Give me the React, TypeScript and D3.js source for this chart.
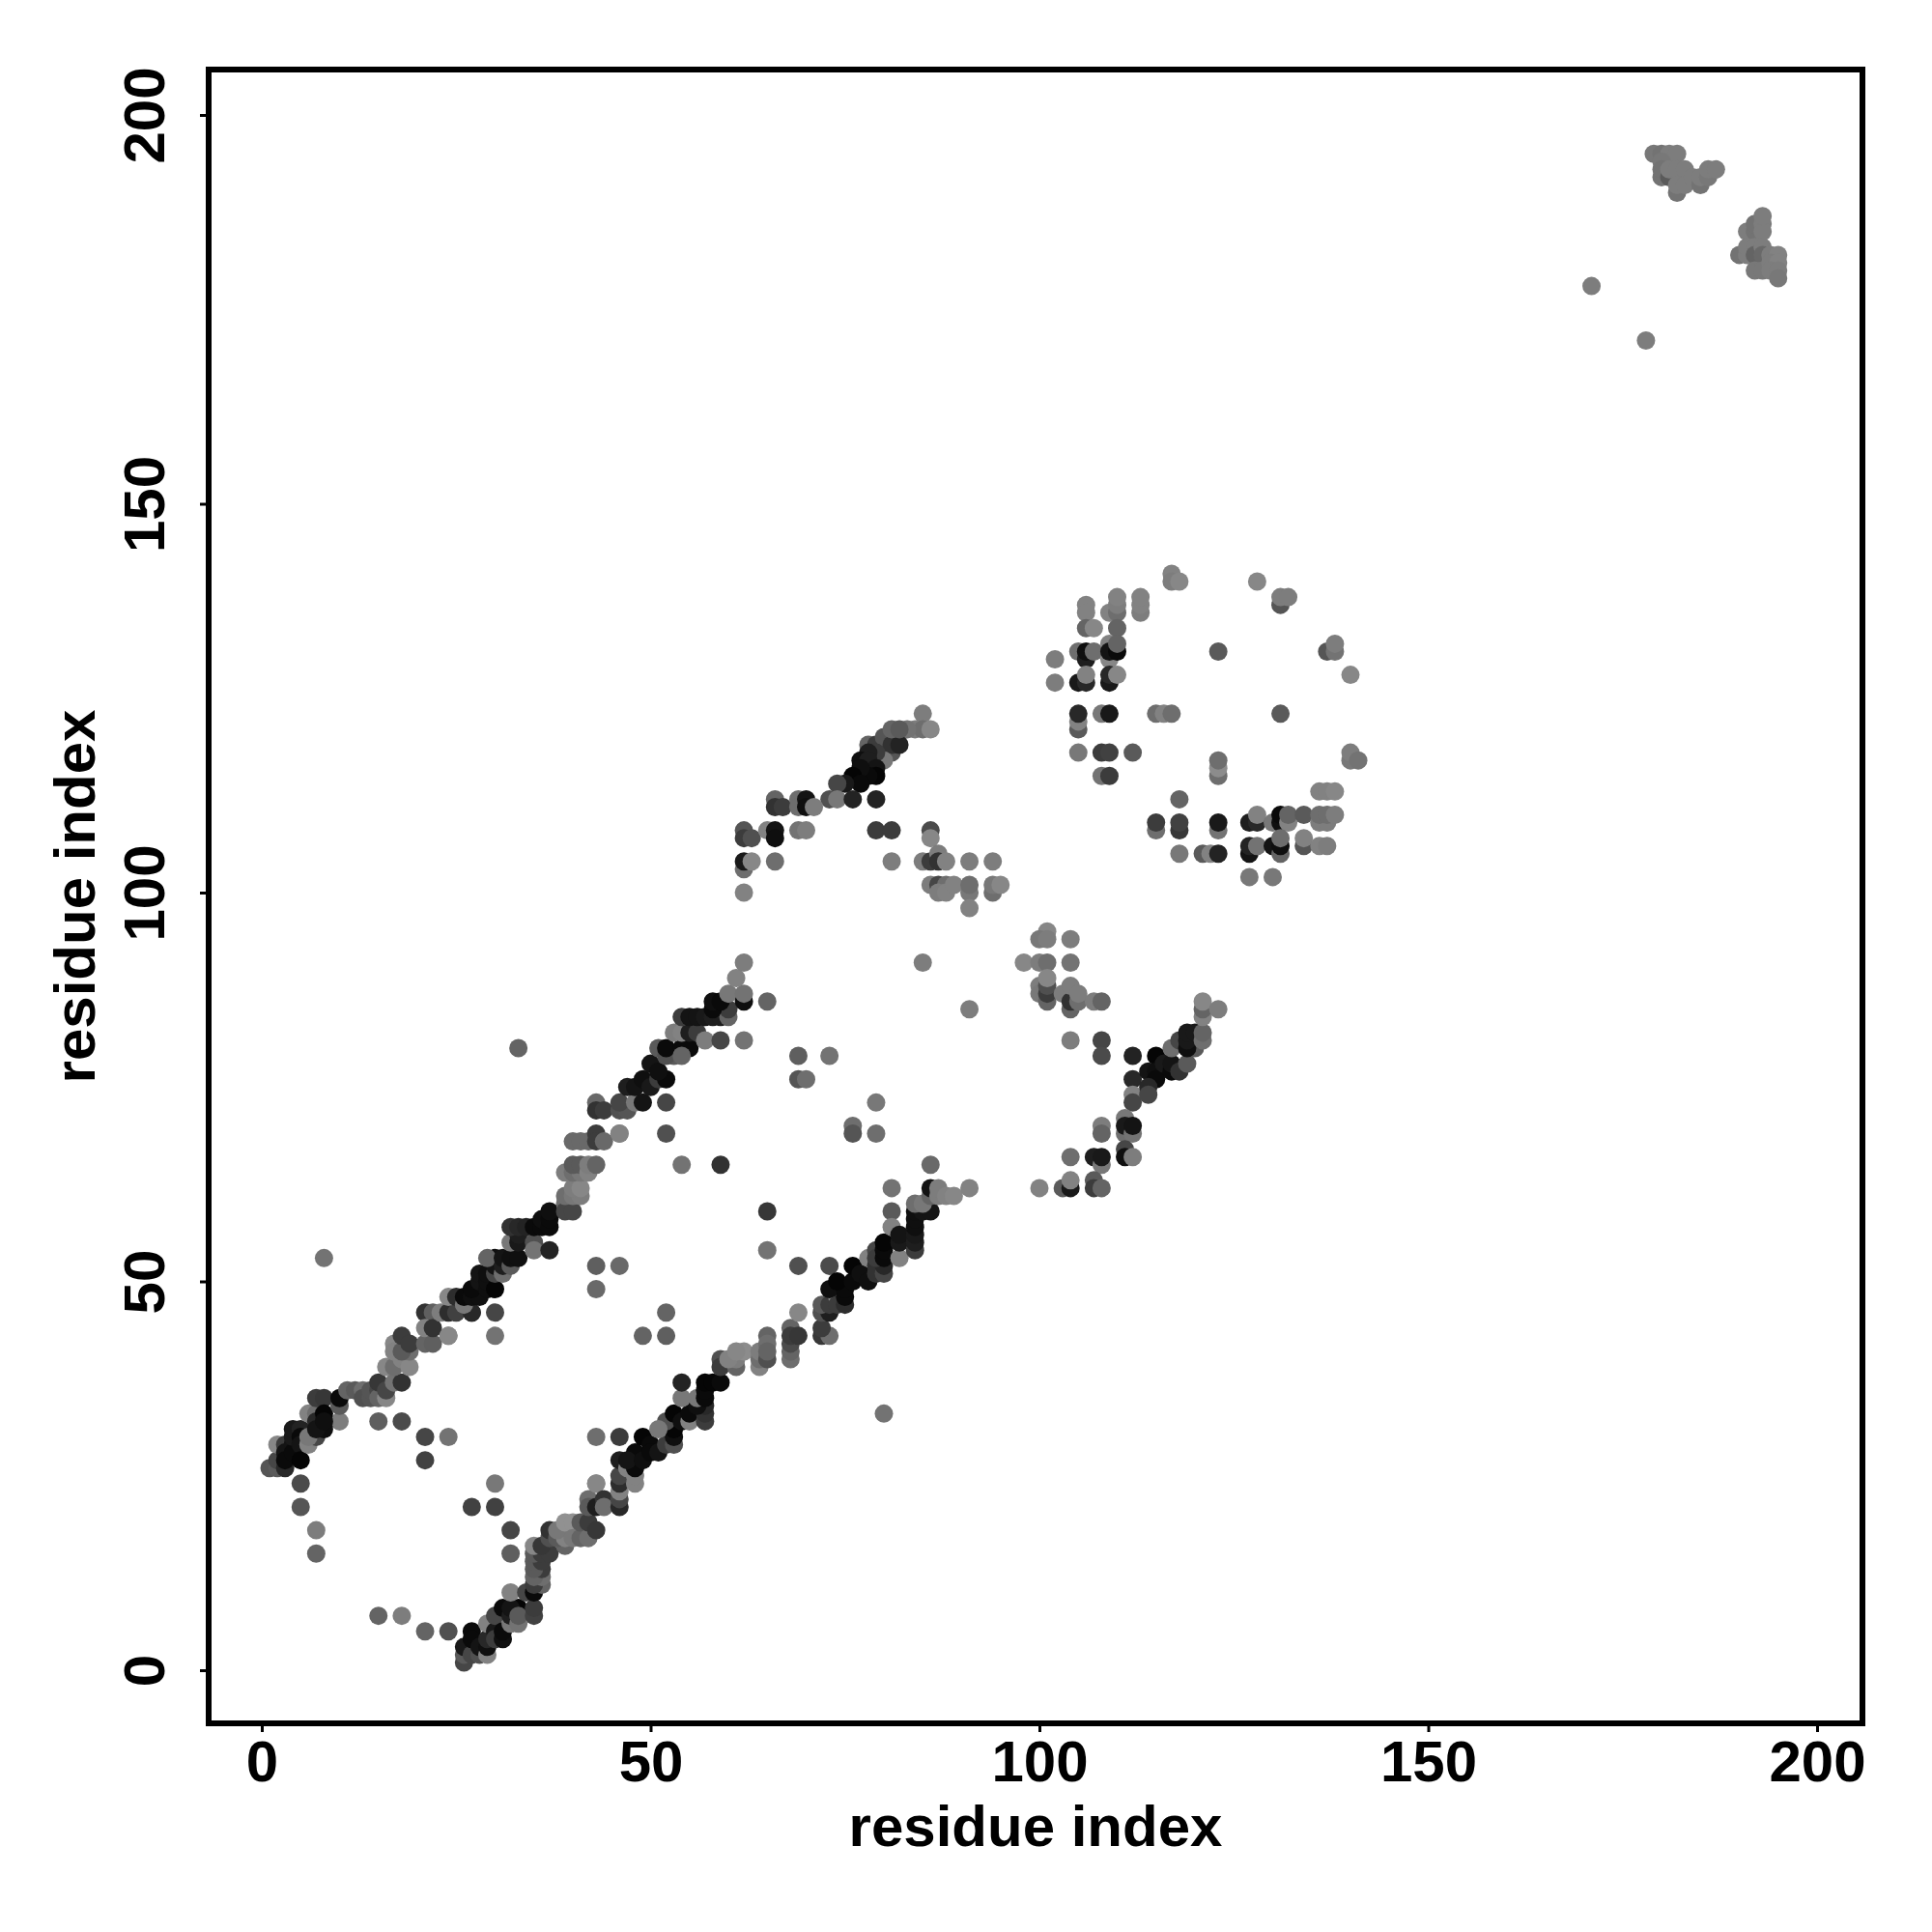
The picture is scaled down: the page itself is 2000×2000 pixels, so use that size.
import * as d3 from "d3";
import { useEffect, useRef } from "react";

// contacts are [residue i, residue j, level] where level is the grey of the dot
type Contact = [number, number, number];

const loopContacts: Contact[] = [
  [15,7,100],[18,7,125],[21,5,100],[24,5,80],[7,15,100],[7,18,125],[5,21,85],[5,24,75],
  [21,27,65],[21,30,70],[24,30,115],[15,32,95],[18,32,75],[10,32,125],[30,24,120],[30,21,65],[27,21,65],
  [32,18,70],[32,15,95],[43,49,105],[43,52,95],[46,52,105],[43,30,110],[46,30,60],[43,24,135],
  [52,46,100],[52,43,95],[49,43,100],[30,43,115],[30,46,70],[27,46,40],[24,43,135],[8,53,115],[33,80,100],
  [69,52,80],[73,52,75],[80,33,115],[65,59,55],[65,54,115],[59,65,50],[54,65,115],[81,62,115],[81,59,90],[86,65,105],
  [85,91,125],[91,85,125],[79,73,120],[79,69,110],[76,70,110],[76,69,85],[69,79,95],[73,79,115],[69,76,85],[70,76,110],
  [52,73,70],[52,69,80],[46,69,130],[65,86,100],[171,178,125],[178,171,125],
];

const upperBandStart: Contact[] = [
  [1,26,85],[2,26,90],[2,27,70],[3,26,40],[2,29,135],[3,29,60],[3,28,20],[3,27,10],[4,29,20],[4,28,10],[4,30,25],[4,31,25],[5,31,35],
  [5,30,10],[5,29,20],[5,27,5],[6,29,130],[7,30,70],[6,30,120],[6,33,130],[7,33,110],[8,31,15],[7,32,40],[7,31,20],[7,35,60],[8,35,55],[8,33,5],[8,32,15],
  [10,34,90],[10,35,10],[11,36,100],[12,36,90],[13,36,110],[13,35,80],[14,35,85],[14,36,85],[15,36,70],[15,35,100],[15,37,55],
  [16,35,135],[16,36,70],[16,39,135],[17,37,115],[18,37,50],[17,39,110],[17,42,135],[17,41,130],[18,40,130],[19,39,135],[19,41,110],[18,41,90],
  [18,43,60],[19,42,60],[21,42,100],[21,46,50],[22,46,95],[21,44,130],[22,42,95],[22,44,50],[24,43,135],[23,46,125],[24,46,45],[25,46,65],[27,46,40],
  [24,48,135],[25,48,45],[26,47,120],[26,48,10],[27,48,15],[28,48,15],[27,49,10],[28,50,20],[28,51,20],[29,49,15],[29,50,15],[29,51,15],
];

const upperBandMiddle: Contact[] = [
  [30,49,5],[30,51,70],[30,52,20],[30,53,15],[29,53,100],[31,51,110],[31,52,30],[31,53,20],[32,52,90],[32,53,15],[33,53,15],
  [32,55,120],[33,55,25],[33,56,30],[32,57,50],[33,57,40],[34,57,35],[35,55,80],[35,54,115],[35,57,10],[36,57,10],[36,58,15],[37,57,10],[37,58,10],[37,59,15],[37,54,35],
  [39,60,110],[39,59,70],[40,59,70],[39,61,110],[40,61,120],[41,61,125],[40,62,125],[41,62,135],
  [39,64,125],[40,64,110],[41,64,120],[40,65,90],[41,65,90],[42,64,130],[42,65,125],[43,65,100],
  [40,68,105],[41,68,105],[42,68,105],[43,69,60],[43,68,60],[44,68,105],[46,69,130],
  [43,73,105],[43,72,50],[44,72,60],[46,72,80],[47,72,85],[46,73,70],[48,73,120],[49,73,20],
  [47,75,30],[48,75,20],[49,76,15],[50,75,25],[51,76,60],[52,76,10],[50,78,20],[51,77,15],[51,80,90],
  [53,79,90],[52,79,80],[52,80,10],[54,80,10],[55,80,10],[54,79,100],[53,82,125],[54,82,130],[55,82,30],[56,82,60],[57,81,125],
  [59,81,70],[54,84,60],[55,84,20],[56,84,20],[57,84,25],[58,84,30],[59,84,30],[60,84,100],[60,85,60],[58,85,10],[58,86,15],[59,86,10],
  [60,87,120],[62,86,15],[62,87,115],[61,89,130],[62,91,125],[62,81,115],
];

const lowerBandStart: Contact[] = [
  [26,1,70],[26,2,90],[26,3,25],[27,2,70],[27,5,10],[27,4,10],[28,2,80],[28,3,20],[29,2,130],[29,3,15],[29,4,40],[29,6,130],
  [30,5,25],[30,7,70],[30,4,60],[31,4,15],[31,5,10],[31,8,10],[32,6,120],[32,7,30],[33,6,115],[33,8,5],[32,8,20],[33,7,90],
  [35,7,65],[35,8,60],[32,10,130],[34,10,70],[35,10,10],[36,11,100],[35,11,60],[36,12,110],[35,12,100],[36,13,60],[35,13,90],
  [35,14,90],[36,14,60],[35,15,90],[36,15,60],[37,15,60],[35,16,135],[36,16,55],[37,17,80],[37,18,50],
  [39,16,100],[38,17,90],[39,17,130],[38,18,120],[39,19,145],[40,19,145],[40,17,120],[41,17,100],[41,19,90],[42,17,110],[42,19,60],[43,18,55],
  [42,22,110],[42,21,90],[43,24,135],[43,21,30],[44,22,50],[44,21,110],
];

const lowerBandMiddle: Contact[] = [
  [46,21,40],[46,22,70],[46,23,130],[46,24,45],[46,25,70],[46,27,30],[47,26,130],[48,24,130],[48,25,130],[48,26,10],[48,28,10],[47,27,20],
  [49,27,15],[49,30,5],[50,29,10],[50,28,10],[51,28,20],[52,29,60],[53,29,80],[53,30,15],[53,31,5],[52,32,80],[51,31,120],[53,33,5],
  [54,32,15],[55,32,130],[55,33,10],[57,32,60],[57,33,50],[57,34,40],[56,34,15],[56,35,120],[54,35,120],[57,35,10],[57,36,10],[54,37,35],[57,37,5],[58,37,5],[59,37,10],
  [59,40,80],[59,39,60],[61,39,100],[61,40,125],[60,40,130],[62,41,140],[61,41,135],[64,39,130],[64,40,110],[64,41,125],[65,40,80],[65,43,100],[65,42,110],[65,41,100],
  [68,40,110],[68,41,100],[68,42,75],[68,44,100],[69,46,135],[68,43,60],[69,43,55],
  [72,43,55],[73,43,110],[72,44,60],[72,46,80],[73,46,30],[72,47,90],[73,47,60],[74,48,140],[73,49,15],[74,47,60],[75,47,45],[75,48,10],[75,49,10],[74,50,5],
];

const lowerBandEnd: Contact[] = [
  [76,50,10],[76,52,5],[77,51,15],[78,50,15],[78,53,130],[79,52,50],[79,51,50],[80,51,70],[80,52,40],[79,54,70],[79,53,60],[80,53,10],[80,54,10],[80,55,5],
  [81,57,130],[82,53,130],[82,55,25],[82,56,20],[84,54,60],[84,55,30],[84,56,25],[84,57,15],[84,58,15],[84,59,15],[85,59,20],[86,59,20],
  [84,60,110],[85,60,120],[86,61,100],[86,62,20],[87,61,125],[87,62,125],[88,61,130],[89,61,135],[91,62,130],
];

const centralContacts: Contact[] = [
  [101,95,135],[100,94,120],[101,94,125],[104,94,125],[98,91,135],[100,91,125],[101,91,110],[104,91,115],
  [100,88,125],[100,87,120],[101,86,100],[101,87,60],[101,88,80],[101,89,135],[103,87,125],[104,85,100],[104,86,50],[104,88,125],[105,86,110],[105,87,125],[107,86,125],[108,86,100],
  [104,81,125],[108,81,70],[108,79,75],[112,79,35],[115,79,5],[112,76,40],[112,74,130],[112,73,70],[114,77,20],[115,77,15],[115,76,10],[114,75,40],[114,74,70],
  [116,78,25],[117,77,10],[117,78,20],[118,77,50],[117,80,110],[118,81,70],[119,78,90],[120,80,90],[119,80,15],[119,81,25],[119,82,25],[120,82,25],[121,81,110],[121,82,100],[121,84,130],[121,85,100],[121,86,135],[123,85,125],
  [108,70,125],[108,69,100],[111,71,120],[111,69,110],[111,70,25],[112,69,115],[112,70,20],
  [104,66,110],[107,66,30],[108,65,120],[108,66,25],[111,67,70],[111,66,15],[112,66,125],
  [100,62,130],[103,62,90],[104,62,25],[104,63,130],[107,63,90],[107,62,60],[108,62,100],
];

const upperLoopContacts: Contact[] = [
  [85,123,125],[84,121,125],[85,121,110],[86,121,135],[83,121,115],
  [78,119,100],[79,119,60],[80,120,85],[81,118,85],[81,119,50],[82,119,35],[81,121,100],[82,121,90],[80,117,120],[79,118,60],
  [78,118,30],[77,117,15],[78,117,30],[79,116,20],[79,115,5],[78,115,10],[77,116,15],[76,115,5],[77,114,10],[75,114,25],[74,114,70],
  [73,112,80],[74,112,120],[76,112,35],[79,112,35],[79,108,60],[81,108,60],
  [66,112,100],[66,111,50],[67,111,60],[69,112,110],[69,111,110],[70,112,20],[70,111,15],[71,111,125],
  [62,108,85],[62,107,60],[63,107,80],[65,108,130],[66,108,20],[66,107,15],[69,108,115],[70,108,125],
  [62,103,110],[62,104,25],[63,104,135],[66,104,110],[62,100,130],[81,104,125],
  [86,108,75],[86,107,135],[85,104,125],[86,104,60],[87,105,125],[87,104,50],[88,104,130],[91,104,125],[94,104,125],
  [86,101,125],[87,101,70],[88,101,110],[87,100,125],[88,100,130],[89,101,130],[91,100,120],[91,101,110],[91,98,130],[94,100,110],[94,101,120],[95,101,135],
];

const ringContacts: Contact[] = [
  [117,141,130],[117,140,125],[118,140,135],[128,140,135],[131,137,85],[131,138,125],[132,138,125],
  [106,137,130],[106,136,130],[106,134,100],[107,134,135],[109,136,130],[110,136,110],[110,137,125],[110,138,130],[110,134,100],[113,136,125],[113,137,130],[113,138,130],
  [102,130,125],[102,127,125],[105,131,110],[106,130,30],[106,131,15],[107,131,110],[109,130,135],[109,132,130],[109,131,20],[110,131,10],[110,132,100],
  [105,127,25],[106,127,40],[106,128,130],[109,127,25],[109,128,40],[110,128,135],
  [105,121,90],[105,122,130],[105,123,40],[108,123,120],[109,123,25],[115,123,110],[116,123,130],[117,123,110],[131,123,90],[123,131,90],
  [105,118,120],[108,118,60],[109,118,65],[112,118,90],[108,115,115],[109,115,60],
  [123,115,110],[123,116,140],[123,117,110],[118,112,100],
  [115,108,110],[115,109,60],[118,108,55],[118,109,65],[123,108,115],[123,109,25],
  [118,105,120],[121,105,90],[122,105,130],[123,105,35],
  [127,109,30],[128,109,40],[128,110,130],[130,109,120],[131,109,15],[131,110,10],[132,109,130],[132,110,100],[134,110,90],
  [136,109,125],[137,109,125],[136,110,110],[137,110,110],[138,110,125],[136,113,130],[137,113,130],[138,113,135],
  [127,105,20],[127,106,35],[128,106,115],[130,106,20],[131,105,100],[131,106,15],[131,107,110],[134,106,85],[134,107,130],[136,106,130],[137,106,125],
  [127,102,120],[130,102,120],[137,131,85],[138,131,115],[138,132,125],[140,128,135],[140,117,120],[140,118,125],[141,117,115],
];

const cTerminalContacts: Contact[] = [
  [179,195,120],[180,195,115],[181,195,125],[182,195,125],[180,194,120],[180,192,115],[180,193,115],[181,192,90],[181,193,125],[182,193,125],[183,193,125],
  [182,190,115],[182,191,125],[183,191,125],[184,192,125],[185,191,115],[185,192,125],[186,192,120],[186,193,125],[187,193,125],
  [190,182,115],[191,185,125],[192,185,115],[192,186,115],[193,186,125],[193,185,125],[193,187,125],
  [191,182,125],[191,183,125],[192,183,125],[192,182,100],[193,183,125],[193,182,105],[192,180,120],[193,180,120],
  [194,182,125],[195,182,130],[194,181,125],[195,181,130],[194,180,125],[195,180,125],[195,179,120],
];

const allContacts = [
  ...loopContacts, ...upperBandStart, ...upperBandMiddle, ...lowerBandStart, ...lowerBandMiddle,
  ...lowerBandEnd, ...centralContacts, ...upperLoopContacts, ...ringContacts, ...cTerminalContacts,
];

const xTicks = [0, 50, 100, 150, 200];
const yTicks = [0, 50, 100, 150, 200];
const axisTitle = "residue index";

const App = () => {
  const chartRef = useRef(null);

  useEffect(() => {
    const svg = d3.select(chartRef.current);
    svg.selectAll("*").remove();

    const left = 216, right = 1928, top = 72, bottom = 1784;
    const x = d3.scaleLinear().domain([0, 200]).range([271, 1881]);
    const y = d3.scaleLinear().domain([0, 200]).range([1729, 119]);
    const grey = d3.scaleLinear().domain([0, 255]).range(["#000000", "#ffffff"]);
    const font = "'Liberation Sans', Arial, sans-serif";

    svg.append("g")
      .selectAll("circle")
      .data(allContacts)
      .enter()
      .append("circle")
      .attr("cx", d => x(d[0]))
      .attr("cy", d => y(d[1]))
      .attr("r", 9.5)
      .attr("fill", d => grey(d[2]));

    svg.append("rect")
      .attr("x", left)
      .attr("y", top)
      .attr("width", right - left)
      .attr("height", bottom - top)
      .attr("fill", "none")
      .attr("stroke", "#000")
      .attr("stroke-width", 6);

    const xAxis = svg.append("g")
      .attr("transform", `translate(0,${bottom})`)
      .call(d3.axisBottom(x).tickValues(xTicks).tickSize(9).tickPadding(8));
    const yAxis = svg.append("g")
      .attr("transform", `translate(${left},0)`)
      .call(d3.axisLeft(y).tickValues(yTicks).tickSize(9).tickPadding(0));

    [xAxis, yAxis].forEach(axis => {
      axis.select(".domain").remove();
      axis.selectAll("line").attr("stroke", "#000").attr("stroke-width", 3);
      axis.selectAll("text")
        .attr("font-family", font)
        .attr("font-weight", "bold")
        .attr("font-size", 60)
        .attr("fill", "#000");
    });

    xAxis.selectAll("text").attr("dy", "0.71em");

    // y tick labels are turned 90 degrees, R style
    yAxis.selectAll("text")
      .attr("x", null)
      .attr("dy", null)
      .attr("text-anchor", "middle")
      .attr("transform", `translate(-46,0) rotate(-90)`);

    svg.append("text")
      .attr("x", (left + right) / 2)
      .attr("y", 1911)
      .attr("text-anchor", "middle")
      .attr("font-family", font)
      .attr("font-weight", "bold")
      .attr("font-size", 60)
      .text(axisTitle);

    svg.append("text")
      .attr("transform", `translate(98,${(top + bottom) / 2}) rotate(-90)`)
      .attr("text-anchor", "middle")
      .attr("font-family", font)
      .attr("font-weight", "bold")
      .attr("font-size", 60)
      .text(axisTitle);
  }, []);

  return (
    <svg
      ref={chartRef}
      width={2000}
      height={2000}
      style={{ position: "absolute", left: 0, top: 0, background: "#fff" }}
    ></svg>
  );
};

export default App;
